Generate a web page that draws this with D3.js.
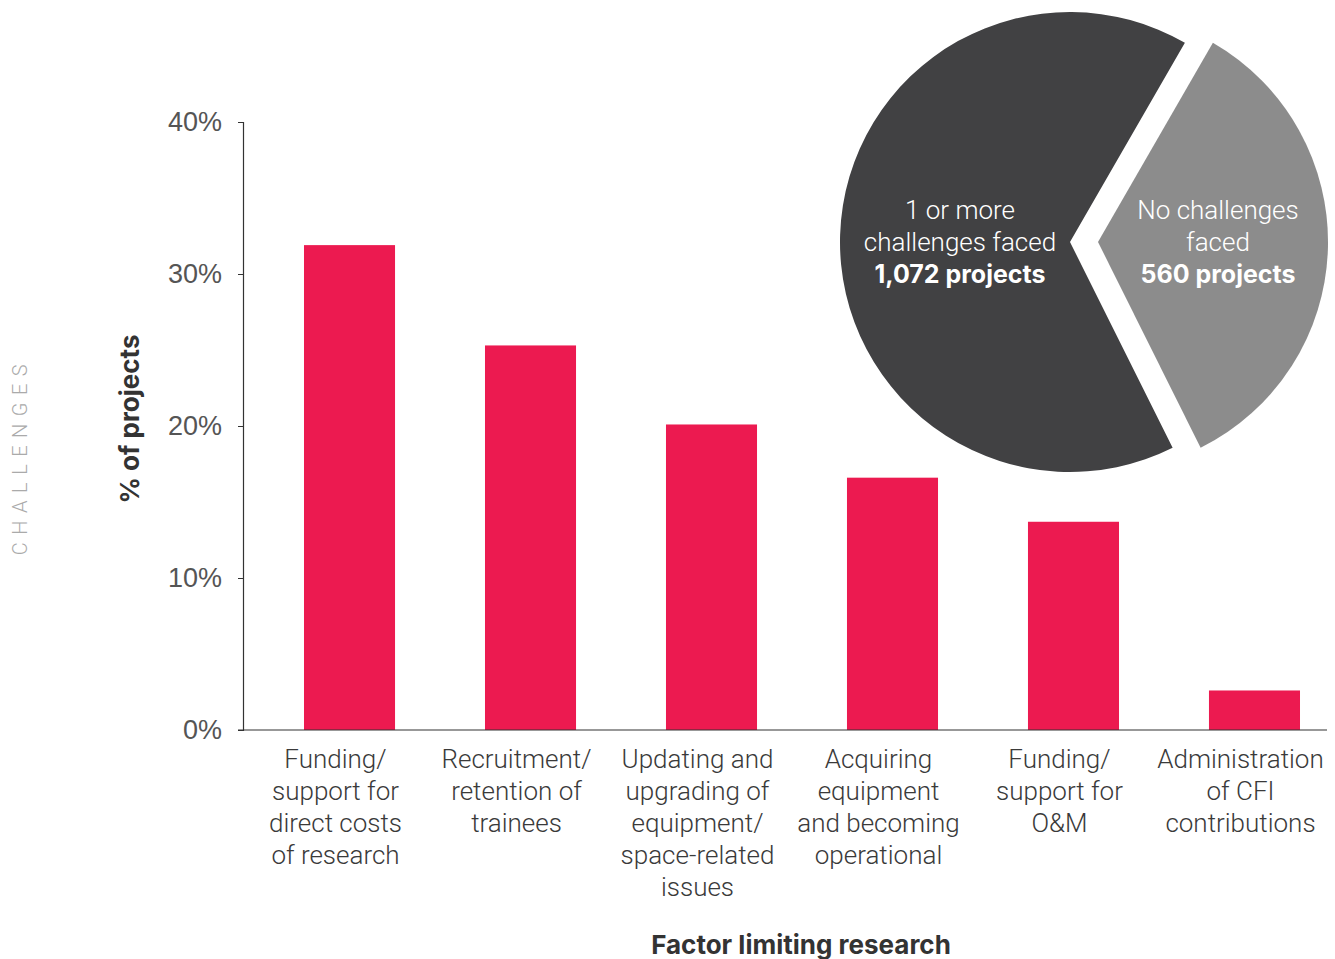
<!DOCTYPE html>
<html>
<head>
<meta charset="utf-8">
<script src="https://cdn.jsdelivr.net/npm/d3@7"></script>
<style>
  body { margin: 0; background: #fff; }
  svg { font-family: Roboto, "Noto Sans", sans-serif; }
  .bold { font-family: Inter, Roboto, sans-serif; font-weight: 700; }
</style>
</head>
<body>
<script>
// data
const categories = [
  ['Funding/', 'support for', 'direct costs', 'of research'],
  ['Recruitment/', 'retention of', 'trainees'],
  ['Updating and', 'upgrading of', 'equipment/', 'space-related', 'issues'],
  ['Acquiring', 'equipment', 'and becoming', 'operational'],
  ['Funding/', 'support for', 'O&M'],
  ['Administration', 'of CFI', 'contributions']
]
const values = [31.9, 25.3, 20.1, 16.6, 13.7, 2.6]
const yTicks = [0, 10, 20, 30, 40]
const pieNames = [['1 or more', 'challenges faced'], ['No challenges', 'faced']]
const pieCounts = [1072, 560]

const box = {
  width: 1335,
  height: 959,
  left: 243,
  top: 122,
  bottom: 730
}

const svg = d3.select('body')
  .append('svg')
  .attr('width', box.width)
  .attr('height', box.height)

const x = d3.scaleBand()
  .domain(d3.range(values.length))
  .range([box.left, 1361])
  .paddingInner(0.497)
  .paddingOuter(0.337)

const y = d3.scaleLinear()
  .domain([0, 40])
  .range([box.bottom, box.top])

// y axis
const yAxis = d3.axisLeft(y)
  .tickValues(yTicks)
  .tickSize(5)
  .tickPadding(16)
  .tickFormat(d => d + '%')

svg.append('g')
  .attr('transform', `translate(${box.left}, 0)`)
  .call(yAxis)
  .call(g => g.select('.domain').attr('stroke', '#333').attr('stroke-width', 1.2))
  .call(g => g.selectAll('.tick line').attr('stroke', '#333'))
  .call(g => g.selectAll('.tick text')
    .attr('fill', '#555')
    .style('font-size', '27px')
    .style('font-weight', 300))

// bars
svg.append('g')
  .selectAll('rect')
  .data(values)
  .join('rect')
  .attr('x', (d, i) => x(i))
  .attr('y', d => y(d))
  .attr('width', x.bandwidth())
  .attr('height', d => y(0) - y(d))
  .attr('fill', '#ec1a50')

// baseline
svg.append('line')
  .attr('x1', box.left - 5)
  .attr('x2', 1327)
  .attr('y1', y(0))
  .attr('y2', y(0))
  .attr('stroke', '#333')
  .attr('stroke-width', 1.2)

// category labels
const lab = svg.append('g')
  .selectAll('text')
  .data(categories)
  .join('text')
  .attr('text-anchor', 'middle')
  .attr('fill', '#3a3a3a')
  .style('font-size', '26px')
  .style('font-weight', 300)

lab.selectAll('tspan')
  .data((d, i) => d.map(t => ({ t, i })))
  .join('tspan')
  .attr('x', d => x(d.i) + x.bandwidth() / 2 - 14)
  .attr('y', (d, j) => 768 + j * 32)
  .text(d => d.t)

// axis titles
svg.append('text')
  .attr('class', 'bold')
  .attr('transform', 'translate(139, 419) rotate(-90)')
  .attr('text-anchor', 'middle')
  .attr('fill', '#333')
  .style('font-size', '26px')
  .text('% of projects')

svg.append('text')
  .attr('class', 'bold')
  .attr('x', 801)
  .attr('y', 954)
  .attr('text-anchor', 'middle')
  .attr('fill', '#333')
  .style('font-size', '26px')
  .text('Factor limiting research')

svg.append('text')
  .attr('transform', 'translate(27, 456) rotate(-90)')
  .attr('text-anchor', 'middle')
  .attr('fill', '#aaa')
  .style('font-size', '20px')
  .style('font-weight', 300)
  .style('letter-spacing', '7.5px')
  .text('CHALLENGES')

// pie
const start = Math.PI * 2 * (153.5 / 360)
const pie = d3.pie()
  .sort(null)
  .startAngle(start)
  .endAngle(start + Math.PI * 2)

const arcs = pie(pieCounts)
const arc = d3.arc().innerRadius(0).outerRadius(230)
const centers = [[1070, 242], [1098, 242]]
const pieColors = ['#414143', '#8c8c8c']

svg.append('g')
  .selectAll('path')
  .data(arcs)
  .join('path')
  .attr('transform', (d, i) => `translate(${centers[i][0]}, ${centers[i][1]})`)
  .attr('d', arc)
  .attr('fill', (d, i) => pieColors[i])

const labelX = [960, 1218]
pieCounts.forEach((c, i) => {
  const t = svg.append('text')
    .attr('text-anchor', 'middle')
    .attr('fill', '#fff')
    .style('font-size', '26px')
  pieNames[i].forEach((line, j) => {
    t.append('tspan')
      .attr('x', labelX[i])
      .attr('y', 219 + j * 32)
      .style('font-weight', 300)
      .text(line)
  })
  t.append('tspan')
    .attr('class', 'bold')
    .attr('x', labelX[i])
    .attr('y', 219 + pieNames[i].length * 32)
    .style('font-size', '25px')
    .text(d3.format(',')(c) + ' projects')
})
</script>
</body>
</html>
